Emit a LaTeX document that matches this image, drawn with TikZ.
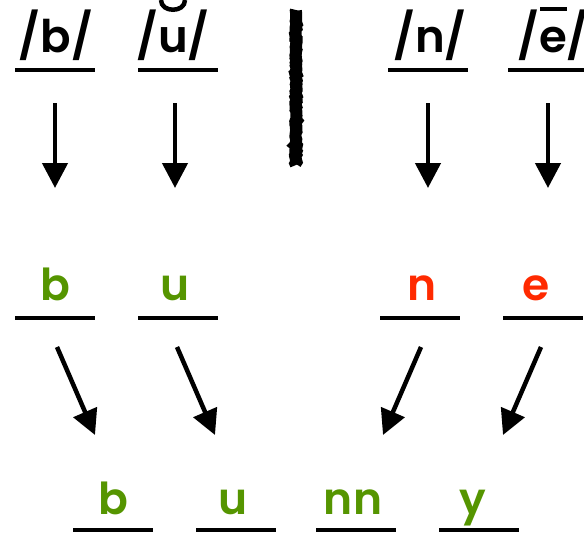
\documentclass[tikz,border=0pt]{standalone}
\usepackage{fontspec}
\setmainfont{Poppins}[UprightFont=* SemiBold,BoldFont=* SemiBold]
\usetikzlibrary{arrows.meta,decorations.pathmorphing}
\definecolor{lgreen}{HTML}{559500}
\definecolor{lred}{HTML}{FF2A00}
\tikzset{
  ul/.style={line width=4pt},
  arr/.style={line width=4.5pt,-{Triangle[width=25pt,length=25pt]}},
  topt/.style={anchor=base,inner sep=0pt,font=\fontsize{45}{45}\selectfont},
  midt/.style={anchor=base,inner sep=0pt,font=\fontsize{44}{44}\selectfont},
  accent/.style={line width=4.5pt},
}
\begin{document}
\begin{tikzpicture}[x=1pt,y=-1pt]
\useasboundingbox (0,0) rectangle (584,535);
% top row
\node[topt] (t1) at (56,53) {/b/};
\node[topt] (t2) at (173,53) {/u/};
\node[topt] (t3) at (430,53) {/n/};
\node[topt] (t4) at (553,53) {/e/};
% breve over u and macron over e
\draw[accent,shift={(t2.base)}] (-12,-53) .. controls (-12,-40) and (12,-40) .. (12,-53);
\draw[accent] (t4.base) ++(-13,-44) -- ++(27,0);
\draw[ul] (15,70) -- (95,70);
\draw[ul] (138,70) -- (218,70);
\draw[ul] (388,70) -- (468,70);
\draw[ul] (508,70) -- (590,70);
% divider
\draw[line width=12pt,decorate,decoration={random steps,segment length=1.5pt,amplitude=0.7pt}] (296,10) coordinate (v1) -- (296,165) coordinate (v2);
% down arrows
\coordinate (a1s) at (55,103); \coordinate (a1e) at (55,188);
\coordinate (a2s) at (175,103); \coordinate (a2e) at (175,188);
\coordinate (a3s) at (428,103); \coordinate (a3e) at (428,188);
\coordinate (a4s) at (548,103); \coordinate (a4e) at (548,188);
\draw[arr] (a1s) -- (a1e);
\draw[arr] (a2s) -- (a2e);
\draw[arr] (a3s) -- (a3e);
\draw[arr] (a4s) -- (a4e);
% middle row
\node[midt,text=lgreen] (m1) at (55,300) {b};
\node[midt,text=lgreen] (m2) at (175,300) {u};
\node[midt,text=lred] (m3) at (422,300) {n};
\node[midt,text=lred] (m4) at (536,300) {e};
\draw[ul] (15,318) -- (95,318);
\draw[ul] (138,318) -- (218,318);
\draw[ul] (380,318) -- (460,318);
\draw[ul] (503,318) -- (583,318);
% diagonal arrows
\coordinate (d1s) at (57,347); \coordinate (d1e) at (95,435);
\coordinate (d2s) at (177,347); \coordinate (d2e) at (215,435);
\coordinate (d3s) at (421,347); \coordinate (d3e) at (383,435);
\coordinate (d4s) at (541,347); \coordinate (d4e) at (503,435);
\draw[arr] (d1s) -- (d1e);
\draw[arr] (d2s) -- (d2e);
\draw[arr] (d3s) -- (d3e);
\draw[arr] (d4s) -- (d4e);
% bottom row
\node[midt,text=lgreen] (b1) at (113,514) {b};
\node[midt,text=lgreen] (b2) at (233,514) {u};
\node[midt,text=lgreen] (b3) at (353,514) {nn};
\node[midt,text=lgreen] (b4) at (473,514) {y};
\draw[ul] (73,530) -- (153,530);
\draw[ul] (196,530) -- (276,530);
\draw[ul] (316,530) -- (396,530);
\draw[ul] (439,530) -- (519,530);
\end{tikzpicture}
\end{document}
